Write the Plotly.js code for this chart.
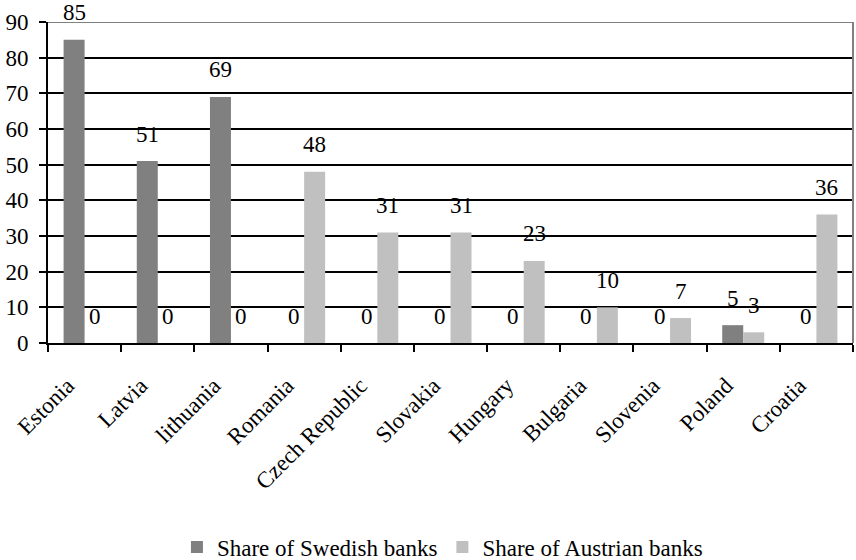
<!DOCTYPE html>
<html>
<head>
<meta charset="utf-8">
<script src="https://cdn.plot.ly/plotly-3.0.1.min.js"></script>
<style>html,body{margin:0;padding:0;background:#fff}#chart{width:856px;height:560px}</style>
</head>
<body>
<div id="chart"></div>
<script>
const categories = ["Estonia","Latvia","lithuania","Romania","Czech Republic","Slovakia","Hungary","Bulgaria","Slovenia","Poland","Croatia"];
const swedish = [85,51,69,0,0,0,0,0,0,5,0];
const austrian = [0,0,0,48,31,31,23,10,7,3,36];
const seriesNames = ["Share of Swedish banks","Share of Austrian banks"];
const yTicks = [0,10,20,30,40,50,60,70,80,90];

const FONT = "'Liberation Serif'";
const FS = 23;
const barOffset = 10.5;

const traces = [
  {type:"bar", name:seriesNames[0], x:categories, y:swedish, marker:{color:"#808080"}, hoverinfo:"none"},
  {type:"bar", name:seriesNames[1], x:categories, y:austrian, marker:{color:"#C0C0C0"}, hoverinfo:"none"}
];

const annotations = [];
categories.forEach((c,i)=>{
  annotations.push({x:c, y:swedish[i], xref:"x", yref:"y", text:String(swedish[i]), showarrow:false, xshift:-barOffset, yshift:27, yanchor:"middle", font:{family:FONT,size:FS,color:"#000"}});
  annotations.push({x:c, y:austrian[i], xref:"x", yref:"y", text:String(austrian[i]), showarrow:false, xshift:barOffset, yshift:27, yanchor:"middle", font:{family:FONT,size:FS,color:"#000"}});
});

const layout = {
  width:856, height:560,
  margin:{l:48, r:3, t:22, b:217},
  paper_bgcolor:"#fff", plot_bgcolor:"#fff",
  font:{family:FONT, size:FS, color:"#000"},
  barmode:"group", bargap:0.426, bargroupgap:0,
  showlegend:true,
  legend:{orientation:"h", x:0.49, xanchor:"center", xref:"paper", y:0.023, yref:"container", yanchor:"middle", font:{family:FONT,size:FS,color:"#000"}, itemwidth:30, traceorder:"normal"},
  xaxis:{type:"category", tickangle:-45, ticks:"outside", tickson:"boundaries", ticklen:7, tickwidth:2, tickcolor:"#000", showline:true, linecolor:"#000", linewidth:2, showgrid:false, tickfont:{family:FONT,size:FS,color:"#000"}, ticklabelstandoff:18, ticklabelshift:-17},
  yaxis:{range:[0,90], tickvals:yTicks, ticks:"outside", ticklen:7, tickwidth:2, tickcolor:"#000", showline:true, linecolor:"#000", linewidth:2, showgrid:true, gridcolor:"#000", gridwidth:2, zeroline:false, tickfont:{family:FONT,size:FS,color:"#000"}, ticklabelstandoff:6},
  shapes:[
    {type:"line", xref:"paper", yref:"y", x0:0, x1:1, y0:90, y1:90, line:{color:"#808080", width:2}, layer:"above"},
    {type:"line", xref:"paper", yref:"y", x0:1, x1:1, y0:0, y1:90, line:{color:"#808080", width:2}, layer:"above"}
  ],
  annotations:annotations
};

Plotly.newPlot("chart", traces, layout, {displayModeBar:false, staticPlot:true});
</script>
</body>
</html>
